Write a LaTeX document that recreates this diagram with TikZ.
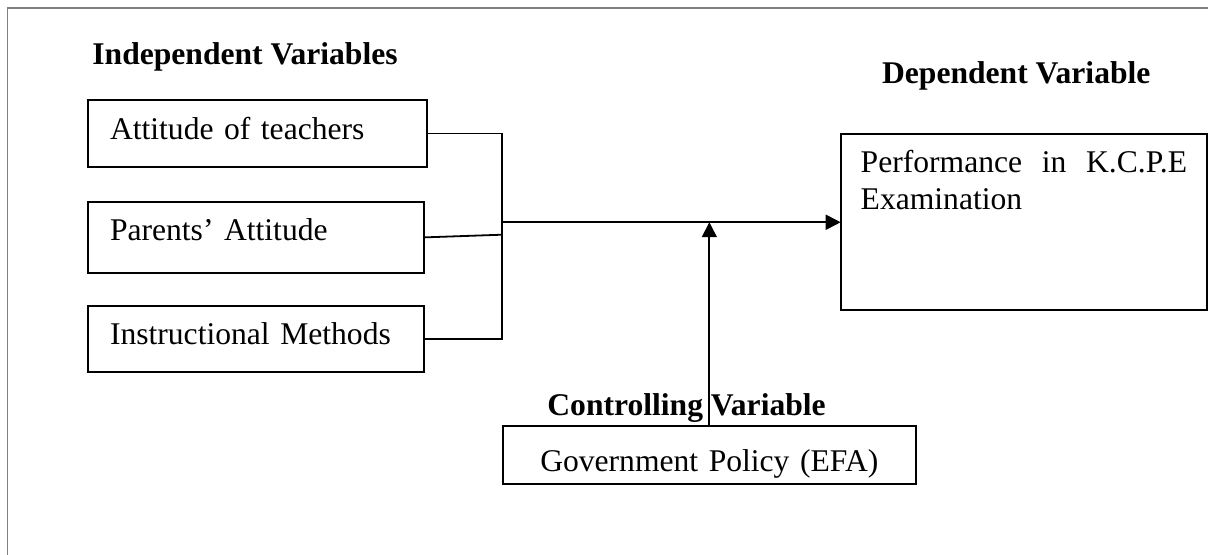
\documentclass[tikz,border=0pt]{standalone}
\usepackage{fontspec}
\setmainfont{Liberation Serif}
\usetikzlibrary{arrows.meta, positioning}

\begin{document}
\begin{tikzpicture}[x=0.5pt, y=-0.5pt,
    font=\fontsize{15.8pt}{18.5pt}\selectfont,
    ivbox/.style={rectangle, draw=black, line width=1pt, outer sep=0pt,
      inner xsep=11pt, inner ysep=0pt, align=left, text height=19.6pt},
    dvbox/.style={rectangle, draw=black, line width=1pt, outer sep=0pt,
      inner xsep=10pt, inner ysep=0pt, align=left, text width=163.2pt,
      text height=19.25pt, text depth=68.5pt},
    cvbox/.style={rectangle, draw=black, line width=1pt, outer sep=0pt,
      inner sep=0pt, align=center, text width=206.65pt,
      text height=23pt, text depth=6.15pt},
    head/.style={font=\fontsize{15.8pt}{18.5pt}\selectfont\bfseries, inner sep=0pt},
    link/.style={line width=0.9pt},
    ar/.style={-{Triangle[length=7.5pt, width=7.5pt]}, line width=0.9pt},
    pageframe/.style={draw=gray, line width=0.7pt}]
    \useasboundingbox (0,0) rectangle (1208,555);
    \draw[pageframe] (7.3,570) -- (7.3,8) -- (1220,8);
    % independent variables
    \node[ivbox, text width=147.5pt, text depth=13.9pt, anchor=north west] (teach) at (88,100) {Attitude of teachers};
    \node[ivbox, text width=146pt, text depth=16.2pt, below=17.3pt of teach.south west, anchor=north west] (parent) {Parents’ Attitude};
    \node[ivbox, text width=146pt, text depth=13.6pt, below=16.2pt of parent.south west, anchor=north west] (method) {Instructional Methods};
    \node[head, above right=17.5pt and 2pt of teach.north west, anchor=base west] (ivhead) {Independent Variables};
    % dependent and controlling variables
    \node[dvbox, below right=17.25pt and 206.85pt of teach.north east, anchor=north west] (perf) {Performance\hfill in\hfill K.C.P.E\\Examination};
    \node[head, above right=25.6pt and 20.5pt of perf.north west, anchor=base west] (dvhead) {Dependent Variable};
    \node[cvbox, below right=26.85pt and 39.35pt of method.south east, anchor=north west] (gov) {Government Policy (EFA)};
    \node[head, above right=5.35pt and 22.15pt of gov.north west, anchor=base west] (cvhead) {Controlling Variable};
    % connectors
    \coordinate (jn) at (502.3,222.3);
    \draw[link] (teach.east) -- (teach.east -| jn) -- (method.east -| jn) -- (method.east);
    \draw[link] (parent.east) -- ([yshift=1.35pt]parent.east -| jn);
    \draw[ar] (perf.west -| jn) -- (perf.west);
    \draw[ar] (gov.north) -- (gov.north |- perf.west);
\end{tikzpicture}
\end{document}
